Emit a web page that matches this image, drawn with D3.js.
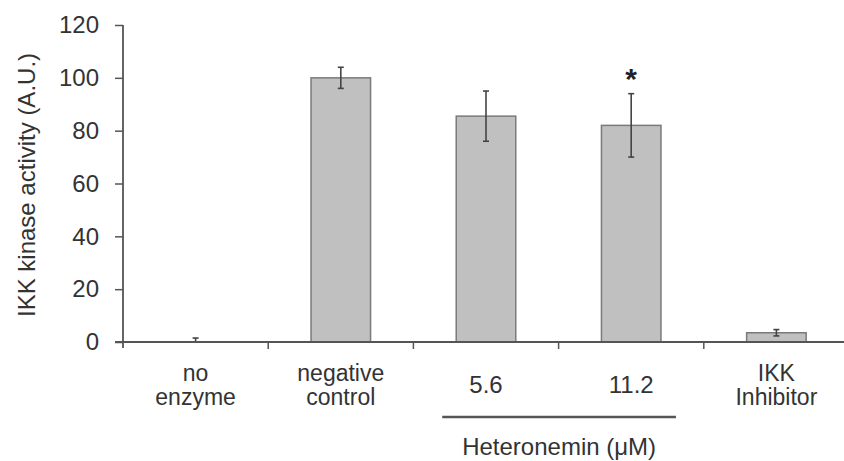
<!DOCTYPE html>
<html>
<head>
<meta charset="utf-8">
<script src="https://cdn.jsdelivr.net/npm/d3@7/dist/d3.min.js"></script>
<style>
  html, body { margin: 0; padding: 0; background: #fff; }
  svg { display: block; }
  text { font-family: "Liberation Sans", Arial, Helvetica, sans-serif; fill: #333; }
</style>
</head>
<body>
<svg id="chart" width="844" height="461"></svg>
<script>
// ---- data ----
const categories = ["no enzyme", "negative control", "5.6", "11.2", "IKK Inhibitor"];
const categoryLines = [["no", "enzyme"], ["negative", "control"], ["5.6"], ["11.2"], ["IKK", "Inhibitor"]];
const values = [0, 100, 85.5, 82, 3.5];
const errors = [1.5, 4, 9.5, 12, 1.2];
const significant = [false, false, false, true, false];
const yTicks = [0, 20, 40, 60, 80, 100, 120];
const yLabel = "IKK kinase activity (A.U.)";
const groupLabel = "Heteronemin (\u03bcM)";
const groupMembers = ["5.6", "11.2"];

// ---- layout ----
const svg = d3.select("#chart");
const x0 = 123, x1 = 849, yBase = 342, yTop = 25;
const fs = 24, fsCat = 23;

const x = d3.scaleBand().domain(categories).range([x0, x1])
  .paddingInner(0.59).paddingOuter(0.295);
const y = d3.scaleLinear().domain([0, 120]).range([yBase, yTop]);
const gap = x.step() - x.bandwidth();

const axisColor = "#555";

// bars
svg.append("g").selectAll("rect").data(categories.filter((d, i) => values[i] > 0)).join("rect")
  .attr("x", d => x(d))
  .attr("y", d => y(values[categories.indexOf(d)]))
  .attr("width", x.bandwidth())
  .attr("height", d => y(0) - y(values[categories.indexOf(d)]))
  .attr("fill", "#c0c0c0")
  .attr("stroke", "#7a7a7a")
  .attr("stroke-width", 1.5);

// error bars
const eg = svg.append("g").attr("stroke", "#444").attr("stroke-width", 1.6);
categories.forEach((c, i) => {
  const cx = x(c) + x.bandwidth() / 2;
  const lo = Math.max(0, values[i] - errors[i]);
  eg.append("line").attr("x1", cx).attr("x2", cx)
    .attr("y1", y(lo)).attr("y2", y(values[i] + errors[i]));
  eg.append("line").attr("x1", cx - 3).attr("x2", cx + 3)
    .attr("y1", y(values[i] + errors[i])).attr("y2", y(values[i] + errors[i]));
  eg.append("line").attr("x1", cx - 3).attr("x2", cx + 3)
    .attr("y1", y(lo)).attr("y2", y(lo));
  if (significant[i]) {
    svg.append("text").attr("x", cx).attr("y", y(values[i] + errors[i]) - 5)
      .attr("text-anchor", "middle").attr("font-size", 30).attr("font-weight", "bold")
      .style("fill", "#222")
      .text("*");
  }
});

// y axis
const yAxis = d3.axisLeft(y).tickValues(yTicks).tickSize(8).tickPadding(16);
const yg = svg.append("g").attr("transform", `translate(${x0},0)`).call(yAxis);
yg.select(".domain").remove();
yg.selectAll(".tick line").attr("stroke", axisColor).attr("stroke-width", 1.5);
yg.selectAll(".tick text").attr("font-size", fs).attr("font-family", null).attr("fill", null);
svg.append("line").attr("x1", x0).attr("x2", x0).attr("y1", yTop).attr("y2", yBase + 6)
  .attr("stroke", axisColor).attr("stroke-width", 1.8);

// x axis line
svg.append("line").attr("x1", x0 - 8).attr("x2", 844).attr("y1", yBase).attr("y2", yBase)
  .attr("stroke", axisColor).attr("stroke-width", 1.8);
// category boundary ticks
const bounds = categories.map(c => x(c) - gap / 2).concat([x(categories[categories.length - 1]) + x.bandwidth() + gap / 2]);
svg.append("g").selectAll("line").data(bounds.slice(1)).join("line")
  .attr("x1", d => d).attr("x2", d => d).attr("y1", yBase).attr("y2", yBase + 7)
  .attr("stroke", axisColor).attr("stroke-width", 1.5);

// category labels
categories.forEach((c, i) => {
  const cx = x(c) + x.bandwidth() / 2;
  const lines = categoryLines[i];
  const t = svg.append("text").attr("text-anchor", "middle").attr("font-size", lines.length === 1 ? fs : fsCat);
  if (lines.length === 1) {
    t.append("tspan").attr("x", cx).attr("y", 393).text(lines[0]);
  } else {
    lines.forEach((l, j) => t.append("tspan").attr("x", cx).attr("y", 381 + j * 24).text(l));
  }
});

// group bracket
const gx1 = x(groupMembers[0]) - 14;
const gx2 = x(groupMembers[1]) + x.bandwidth() + 15;
svg.append("line").attr("x1", gx1).attr("x2", gx2).attr("y1", 417).attr("y2", 417)
  .attr("stroke", "#555").attr("stroke-width", 2.5);
svg.append("text").attr("x", (gx1 + gx2) / 2).attr("y", 455).attr("text-anchor", "middle")
  .attr("font-size", fs).text(groupLabel);

// y label
svg.append("text").attr("transform", "translate(35,185) rotate(-90)")
  .attr("text-anchor", "middle").attr("font-size", fs).text(yLabel);
</script>
</body>
</html>
